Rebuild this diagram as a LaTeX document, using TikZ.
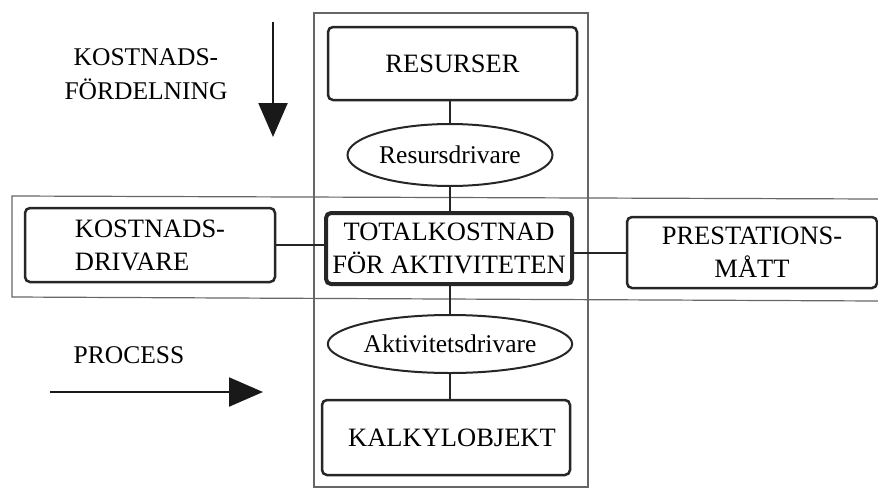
\documentclass[tikz,border=0pt]{standalone}
\usepackage{fontspec}
\setmainfont{Liberation Serif}
\usetikzlibrary{shapes.geometric,arrows.meta}
\begin{document}
\begin{tikzpicture}[x=1pt,y=-1pt,
  box/.style={draw=black!85,line width=2.5pt,rounded corners=5pt,inner sep=0pt,align=center,
    font=\fontsize{26.5}{33}\selectfont},
  bigbox/.style={box,line width=4pt},
  oval/.style={draw=black!85,line width=2pt,ellipse,inner sep=0pt,font=\fontsize{25.5}{30}\selectfont},
  frame/.style={draw=black!60,line width=1.2pt},
  link/.style={draw=black!85,line width=2pt},
  bigarrow/.style={draw=black!90,line width=2.2pt,-{Triangle[length=34pt,width=29pt]}},
  lbl/.style={align=center,font=\fontsize{25.5}{34}\selectfont}]
\useasboundingbox (0,0) rectangle (878,490);
% frames
\draw[frame] (314,13) rectangle (588,487);
\draw[frame] (878,199) -- (12,196) -- (12,297) -- (878,301);
% nodes
\node[box,minimum width=249pt,minimum height=73pt] (res) at (452.5,63.5) {RESURSER};
\node[oval,minimum width=205pt,minimum height=62pt] (resd) at (450,155) {Resursdrivare};
\node[bigbox,minimum width=246pt,minimum height=71pt] (tot) at (449,248.5) {TOTALKOSTNAD\\FÖR AKTIVITETEN};
\node[box,minimum width=250pt,minimum height=74pt,align=left] (kd) at (150,245) {KOSTNADS-\hspace{12pt}\\DRIVARE};
\node[box,minimum width=250pt,minimum height=71pt] (pm) at (752,252.5) {PRESTATIONS-\\MÅTT};
\node[oval,minimum width=206pt,minimum height=58pt] (akd) at (450,344) {Aktivitetsdrivare};
\node[box,minimum width=248pt,minimum height=75pt] (kal) at (446,437.5) {\hspace{12pt}KALKYLOBJEKT};
% connectors
\draw[link] (resd.north) -- (resd.north |- res.south);
\draw[link] (resd.south) -- (resd.south |- tot.north);
\draw[link] (akd.north) -- (akd.north |- tot.south);
\draw[link] (akd.south) -- (akd.south |- kal.north);
\draw[link] (kd.east) -- (kd.east -| tot.west);
\draw[link] (pm.west) -- (pm.west -| tot.east);
% labels and arrows
\node[lbl] (kf) at (146,74) {KOSTNADS-\\FÖRDELNING};
\coordinate (d1) at (273,22);
\coordinate (d2) at (273,137);
\draw[bigarrow] (d1) -- (d2);
\node[lbl] (proc) at (129,355) {PROCESS};
\coordinate (p1) at (50,392);
\coordinate (p2) at (263,392);
\draw[bigarrow] (p1) -- (p2);
\end{tikzpicture}
\end{document}
